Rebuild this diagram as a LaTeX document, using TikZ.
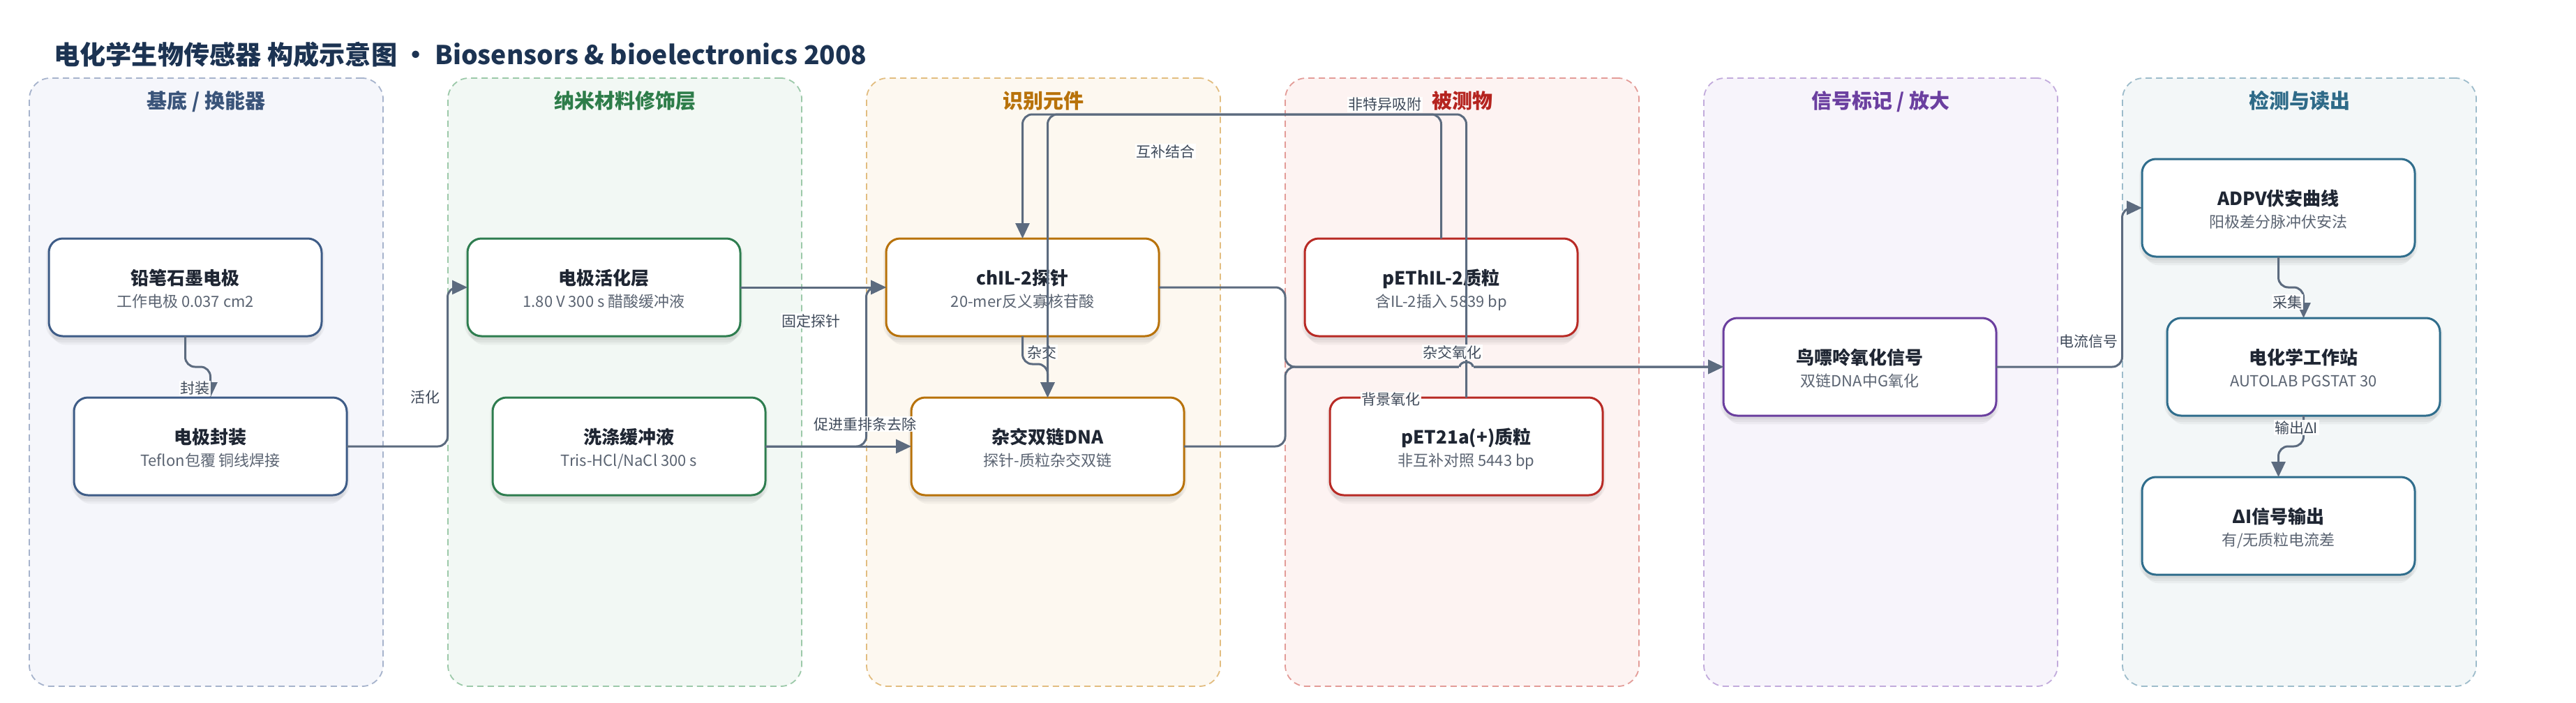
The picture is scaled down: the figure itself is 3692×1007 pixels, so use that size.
\documentclass[tikz,border=0pt]{standalone}
\usepackage{fontspec}
\setmainfont{Noto Sans CJK SC}
\usetikzlibrary{arrows.meta,shadows,calc}

\definecolor{edgec}{HTML}{5C6B7F}
\definecolor{titlec}{HTML}{1C3352}
\definecolor{ntext}{HTML}{1F2633}
\definecolor{nsubc}{HTML}{5B6472}
\definecolor{labc}{HTML}{3F4A5A}
% lane colours
\definecolor{c1}{HTML}{3E5C87}\definecolor{l1f}{HTML}{F5F6FB}\definecolor{l1d}{HTML}{A6B3CC}\definecolor{t1}{HTML}{3A547A}
\definecolor{c2}{HTML}{2E7D4F}\definecolor{l2f}{HTML}{F2F8F4}\definecolor{l2d}{HTML}{9CC9A9}\definecolor{t2}{HTML}{2E7D4A}
\definecolor{c3}{HTML}{B8720A}\definecolor{l3f}{HTML}{FDF8F0}\definecolor{l3d}{HTML}{E2BD80}\definecolor{t3}{HTML}{B8720A}
\definecolor{c4}{HTML}{B82A25}\definecolor{l4f}{HTML}{FDF3F2}\definecolor{l4d}{HTML}{E39C98}\definecolor{t4}{HTML}{B5241F}
\definecolor{c5}{HTML}{6A3E9E}\definecolor{l5f}{HTML}{F7F4FB}\definecolor{l5d}{HTML}{C2ABDC}\definecolor{t5}{HTML}{6B3FA0}
\definecolor{c6}{HTML}{2F6D8C}\definecolor{l6f}{HTML}{F3F7F8}\definecolor{l6d}{HTML}{9DBCCB}\definecolor{t6}{HTML}{2E6A88}

\tikzset{
  lanebox/.style 2 args={draw=#1, fill=#2, dash pattern=on 9pt off 6pt, line width=1.8pt,
    rounded corners=30pt, minimum width=507pt, minimum height=872pt, inner sep=0pt, outer sep=0pt},
  lanetitle/.style={anchor=base, inner sep=0pt, text=#1, font=\bfseries\fontsize{29}{34}\selectfont},
  box/.style={draw=#1, line width=3pt, fill=white, rounded corners=20pt,
    minimum width=391pt, minimum height=140pt, inner sep=0pt, outer sep=0pt,
    general shadow={fill=black, opacity=0.045, shadow yshift=-4pt, shadow scale=1.02},
    general shadow={fill=black, opacity=0.045, shadow yshift=-9pt},
    general shadow={fill=black, opacity=0.04, shadow yshift=-14pt, shadow scale=0.98}},
  ntitle/.style={anchor=base, inner sep=0pt, text=ntext, font=\bfseries\fontsize{26}{30}\selectfont},
  nsub/.style={anchor=base, inner sep=0pt, text=nsubc, font=\fontsize{22}{26}\selectfont},
  edge/.style={draw=edgec, line width=3pt, rounded corners=14pt, -{Triangle[length=22pt,width=20pt]}},
  elabel/.style={fill=white, fill opacity=0.92, text opacity=1, text=labc, inner sep=1.5pt,
    font=\fontsize{21}{24}\selectfont}
}

\newcommand{\mkbox}[6]{%
  \node[box=#4] (#1) at (#2,#3) {};
  \node[ntitle] (#1-t) at (#2,#3-4) {#5};
  \node[nsub] (#1-s) at (#2,#3+28) {#6};
}

\begin{document}
\begin{tikzpicture}[x=1pt,y=-1pt]
\useasboundingbox (0,0) rectangle (3692,1007);
\fill[white] (0,0) rectangle (3692,1007);

% title
\node[anchor=base west, inner sep=0pt, text=titlec, font=\bfseries\fontsize{37.2}{44}\selectfont]
  (title) at (77,92) {电化学生物传感器 构成示意图 · Biosensors \& bioelectronics 2008};

% lanes
\node[lanebox={l1d}{l1f}] (lane1) at (295.5,548) {};
\node[lanebox={l2d}{l2f}] (lane2) at (895.5,548) {};
\node[lanebox={l3d}{l3f}] (lane3) at (1495.5,548) {};
\node[lanebox={l4d}{l4f}] (lane4) at (2095.5,548) {};
\node[lanebox={l5d}{l5f}] (lane5) at (2695.5,548) {};
\node[lanebox={l6d}{l6f}] (lane6) at (3295.5,548) {};
\node[lanetitle=t1] (lt1) at (295.5,155) {基底 / 换能器};
\node[lanetitle=t2] (lt2) at (895.5,155) {纳米材料修饰层};
\node[lanetitle=t3] (lt3) at (1495.5,155) {识别元件};
\node[lanetitle=t4] (lt4) at (2095.5,155) {被测物};
\node[lanetitle=t5] (lt5) at (2695.5,155) {信号标记 / 放大};
\node[lanetitle=t6] (lt6) at (3295.5,155) {检测与读出};

% boxes
\mkbox{n1}{265.5}{412}{c1}{铅笔石墨电极}{工作电极 0.037 cm2}
\mkbox{n2}{301.5}{640}{c1}{电极封装}{Teflon包覆 铜线焊接}
\mkbox{n3}{865.5}{412}{c2}{电极活化层}{1.80 V 300 s 醋酸缓冲液}
\mkbox{n4}{901.5}{640}{c2}{洗涤缓冲液}{Tris-HCl/NaCl 300 s}
\mkbox{n5}{1465.5}{412}{c3}{chIL-2探针}{20-mer反义寡核苷酸}
\mkbox{n6}{1501.5}{640}{c3}{杂交双链DNA}{探针-质粒杂交双链}
\mkbox{n7}{2065.5}{412}{c4}{pEThIL-2质粒}{含IL-2插入 5839 bp}
\mkbox{n8}{2101.5}{640}{c4}{pET21a(+)质粒}{非互补对照 5443 bp}
\mkbox{n9}{2665.5}{526}{c5}{鸟嘌呤氧化信号}{双链DNA中G氧化}
\mkbox{n10}{3265.5}{298}{c6}{ADPV伏安曲线}{阳极差分脉冲伏安法}
\mkbox{n11}{3301.5}{526}{c6}{电化学工作站}{AUTOLAB PGSTAT 30}
\mkbox{n12}{3265.5}{754}{c6}{ΔI信号输出}{有/无质粒电流差}

\coordinate (topy) at (0,164);
\coordinate (j4) at (1842,526);

% edges
\draw[edge] (n1.south) -- ++(0,44) -| (n2.north);
\draw[edge] (n2.east) -| ([xshift=-28.5pt]n3.west) -- (n3.west);
\draw[edge] (n3.east) -- (n5.west);
\draw[edge] (n4.east) -| ([xshift=-28.5pt]n5.west) -- (n5.west);
\draw[edge] (n4.east) -- (n6.west);
\draw[edge] (n5.south) -- ++(0,40) -| (n6.north);
\draw[edge] (n5.east) -| (j4) -- (n9.west);
\draw[edge] (n6.east) -| (j4) -- (n9.west);
\draw[edge] (n9.east) -| ([xshift=-28.5pt]n10.west) -- (n10.west);
\draw[edge] (n10.south) -- ++(0,44) -| (n11.north);
\draw[edge] (n11.south) -- ++(0,44) -| (n12.north);

% line hop over the vertical from pET21a
\fill[l4f] (2091,521) rectangle (2112,531);
\draw[edgec, line width=3pt] (2092,526) arc[start angle=180, end angle=360, x radius=9.5, y radius=7];

\node[elabel] (l5) at (1493,505) {杂交};

\draw[edge] (n7.north) -- (n7.north |- topy) -| (n6.north);
\draw[edge] (n8.north) -- (n8.north |- topy) -| (n5.north);

% labels
\node[elabel] (l1) at (279,557) {封装};
\node[elabel] (l2) at (609,570) {活化};
\node[elabel] (l3) at (1162,460) {固定探针};
\node[elabel] (l4) at (1240,608) {促进重排条去除};
\node[elabel] (l6) at (1670,217) {互补结合};
\node[elabel] (l7) at (1985,150) {非特异吸附};
\node[elabel] (l8) at (2081,505) {杂交氧化};
\node[elabel] (l9) at (1993,573) {背景氧化};
\node[elabel] (l10) at (2993,490) {电流信号};
\node[elabel] (l11) at (3278,433) {采集};
\node[elabel] (l12) at (3291,613) {输出ΔI};
\end{tikzpicture}
\end{document}
